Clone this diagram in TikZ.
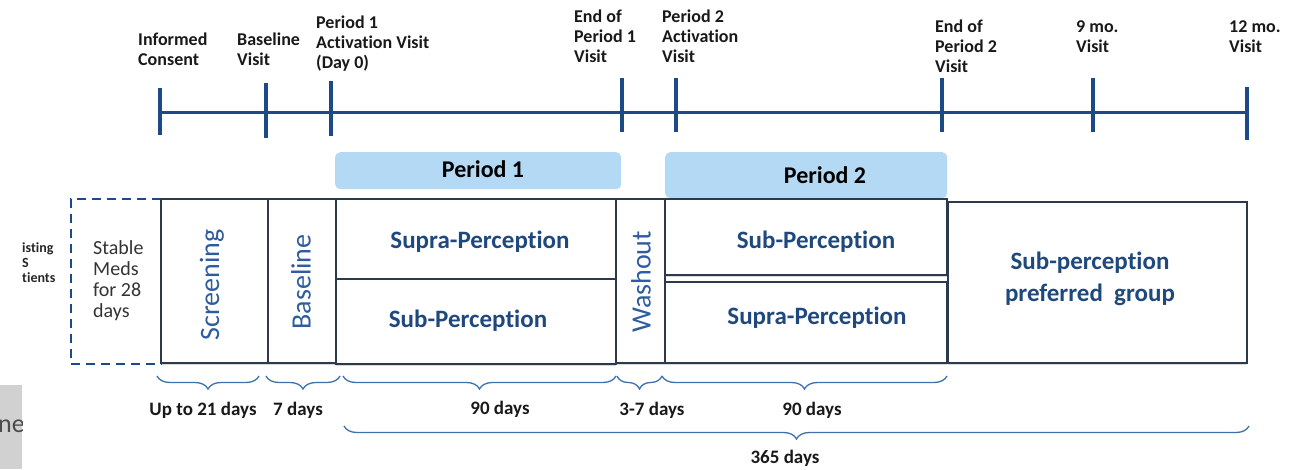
\documentclass[tikz,border=0pt]{standalone}
\usepackage{fontspec}
\setmainfont{Carlito}[Ligatures=NoCommon]
\usetikzlibrary{positioning,decorations.pathreplacing,shadows}

\definecolor{tline}{RGB}{28,74,136}
\definecolor{boxtext}{RGB}{31,73,125}
\definecolor{rottext}{RGB}{46,92,158}
\definecolor{bracecol}{RGB}{62,112,172}
\definecolor{boxline}{RGB}{45,58,75}
\definecolor{perfill}{RGB}{180,217,245}

\tikzset{
  visit/.style={anchor=base west, align=left, inner sep=0pt, text=black!90,
    font=\bfseries\fontsize{18}{20}\selectfont},
  phase/.style={draw=boxline, line width=1.5pt, fill=white, inner sep=0pt,
    anchor=north west,
    drop shadow={shadow xshift=0.5pt, shadow yshift=-2.5pt, opacity=.3}},
  perbox/.style={fill=perfill, rounded corners=5pt, inner sep=0pt, anchor=north west},
  armtext/.style={anchor=base, text=boxtext, font=\bfseries\fontsize{25}{32}\selectfont},
  sidetext/.style={rotate=90, text=rottext, font=\fontsize{28}{30}\selectfont},
  span/.style={decorate, decoration={brace, mirror, amplitude=13pt},
    draw=bracecol, line width=1.3pt},
  daytext/.style={anchor=base, text=black!90, font=\bfseries\fontsize{19}{21}\selectfont}
}

\begin{document}
\begin{tikzpicture}[x=1pt, y=-1pt]
\useasboundingbox (0,0) rectangle (1294,469);

% visit time line
\draw[tline, line width=3pt] (160,112) -- (1247,112);
\foreach \x/\a/\b in {160/88/135, 266/83/138, 331/81/136, 622/78/132,
                      676/78/132, 942/78/132, 1093/78/132, 1247/87/140}
{
    \draw[tline, line width=3.5pt] (\x,\a) -- (\x,\b);
}

% visit labels, placed by the baseline of their last line
\node[visit] (consent) at (138,65) {Informed\\Consent};
\node[visit] (basevisit) at (237,65) {Baseline\\Visit};
\node[visit] (actone) at (316,68) {Period 1\\Activation Visit\\(Day 0)};
\node[visit] (endone) at (574,62) {End of\\Period 1\\Visit};
\node[visit] (acttwo) at (662,62) {Period 2\\Activation\\Visit};
\node[visit] (endtwo) at (935,72) {End of\\Period 2\\Visit};
\node[visit] (ninemo) at (1076,52) {9 mo.\\Visit};
\node[visit] (twelvemo) at (1229,52) {12 mo.\\Visit};

% period headers
\node[perbox, minimum width=286pt, minimum height=37pt] (perone) at (335,152) {};
\node[perbox, minimum width=282pt, minimum height=46pt] (pertwo) at (665,152) {};
\node[anchor=base, font=\bfseries\fontsize{24}{26}\selectfont] (peronelbl) at (483,177) {Period 1};
\node[anchor=base, font=\bfseries\fontsize{24}{26}\selectfont] (pertwolbl) at (825,183) {Period 2};

% study phases
\node[draw=tline, line width=1.8pt, dash pattern=on 9pt off 6pt, inner sep=0pt,
      anchor=north west, minimum width=90pt, minimum height=165pt] (meds) at (70,198) {};
\node[anchor=base west, align=left, inner sep=0pt, text=black!80,
      font=\fontsize{20}{21}\selectfont] (medslbl) at (93,317) {Stable\\Meds\\for 28\\days};

\node[phase, minimum width=107pt, minimum height=164pt] (screen) at (160,198) {};
\node[phase, minimum width=68pt, minimum height=164pt] (base) at (267,198) {};
\node[phase, minimum width=280pt, minimum height=80pt] (oneup) at (335,198) {};
\node[phase, minimum width=280pt, minimum height=85pt] (onelow) at (335,278) {};
\node[phase, minimum width=49pt, minimum height=164pt] (wash) at (615,198) {};
\node[phase, minimum width=282pt, minimum height=76pt] (twoup) at (664,198) {};
\node[phase, minimum width=282pt, minimum height=81pt] (twolow) at (664,281) {};
\node[phase, minimum width=299pt, minimum height=161pt] (pref) at (947,201) {};

\node[sidetext] (screenlbl) at (212,285) {Screening};
\node[sidetext] (baselbl) at (301,282) {Baseline};
\node[sidetext] (washlbl) at (641,282) {Washout};
\node[armtext] (oneuplbl) at (480,248) {Supra-Perception};
\node[armtext] (onelowlbl) at (468,327) {Sub-Perception};
\node[armtext] (twouplbl) at (816,248) {Sub-Perception};
\node[armtext] (twolowlbl) at (817,324) {Supra-Perception};
\node[anchor=center, align=center, text=boxtext,
      font=\bfseries\fontsize{25}{32}\selectfont] (preflbl) at (1090,279)
      {Sub-perception\\preferred~~group};

% cut-off text on the left edge
\node[anchor=base west, align=left, inner sep=0pt, text=black!85,
      font=\bfseries\fontsize{14}{15}\selectfont] (leftcut) at (22,282) {isting\\S\\tients};
\fill[black!18] (0,385) rectangle (22,469);
\begin{scope}
\clip (0,385) rectangle (22,469);
\node[anchor=base west, inner sep=0pt, text=black!70,
      font=\fontsize{26}{28}\selectfont] (greyne) at (-2,432) {ne};
\end{scope}

% durations
\coordinate (sa) at (157,376);  \coordinate (sb) at (259,376);
\coordinate (ba) at (266,376);  \coordinate (bb) at (340,376);
\coordinate (oa) at (343,376);  \coordinate (ob) at (616,376);
\coordinate (wa) at (617,376);  \coordinate (wb) at (662,376);
\coordinate (ta) at (662,376);  \coordinate (tb) at (947,376);
\coordinate (ya) at (344,426);  \coordinate (yb) at (1249,426);
\draw[span] (sa) -- (sb);
\draw[span] (ba) -- (bb);
\draw[span] (oa) -- (ob);
\draw[span] (wa) -- (wb);
\draw[span] (ta) -- (tb);
\draw[span] (ya) -- (yb);

\node[daytext] (screendays) at (203,415) {Up to 21 days};
\node[daytext] (basedays) at (298,415) {7 days};
\node[daytext] (onedays) at (500,414) {90 days};
\node[daytext] (washdays) at (652,415) {3-7 days};
\node[daytext] (twodays) at (812,415) {90 days};
\node[daytext] (yeardays) at (785,463) {365 days};
\end{tikzpicture}
\end{document}
